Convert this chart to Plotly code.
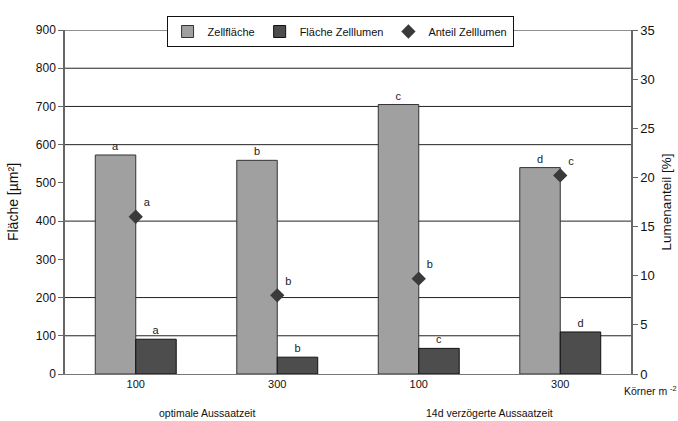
import plotly.graph_objects as go

categories = ["100", "300", "100", "300"]
groups = ["optimale Aussaatzeit", "14d verzögerte Aussaatzeit"]
zellflaeche = [573, 559, 705, 540]
lumen_flaeche = [91, 44, 67, 110]
anteil = [16.0, 8.0, 9.7, 20.2]
letters_zell = ["a", "b", "c", "d"]
letters_lumen = ["a", "b", "c", "d"]
letters_anteil = ["a", "b", "b", "c"]
grid_values = [100, 200, 400, 600, 700, 800, 900]
y_ticks = [0, 100, 200, 300, 400, 500, 600, 700, 800, 900]
y2_ticks = [0, 5, 10, 15, 20, 25, 30, 35]

FONT = "Liberation Sans, Arial, sans-serif"
x = list(range(len(categories)))

W, H = 678, 421
M_T, M_B, M_L, M_R = 16, 47, 65, 47
plot_h = H - M_T - M_B
dom_top = (H - M_B - 30) / plot_h  # plot top at 30 px from top

fig = go.Figure()
fig.add_trace(go.Bar(
    x=x, y=zellflaeche, name="Zellfläche",
    marker=dict(color="#A0A0A0", line=dict(color="#333333", width=1)),
    text=letters_zell, textposition="outside", cliponaxis=False,
    textfont=dict(size=11, color="#222222"),
))
fig.add_trace(go.Bar(
    x=x, y=lumen_flaeche, name="Fläche Zelllumen",
    marker=dict(color="#4D4D4D", line=dict(color="#111111", width=1)),
    text=letters_lumen, textposition="outside", cliponaxis=False,
    textfont=dict(size=11, color="#222222"),
))
fig.add_trace(go.Scatter(
    x=x, y=anteil, name="Anteil Zelllumen", yaxis="y2",
    mode="markers+text",
    marker=dict(symbol="diamond", size=11, color="#3A3A3A"),
    text=letters_anteil, textposition="top right",
    textfont=dict(size=11, color="#222222"),
))

for g in grid_values:
    fig.add_shape(type="line", xref="paper", x0=0, x1=1, yref="y", y0=g, y1=g,
                  line=dict(color="#222222", width=1), layer="below")

group_y = -(H - M_B - (H - 1)) / plot_h
for gx, gtext in zip([0.5, 2.5], groups):
    fig.add_annotation(x=gx, y=-0.131, xref="x", yref="paper", yanchor="bottom",
                       text=gtext, showarrow=False,
                       font=dict(size=10.5, family=FONT, color="#111"))
fig.add_annotation(x=0.984, y=-0.045, xref="paper", yref="paper", xanchor="left",
                   yanchor="middle", text="Körner m <sup>-2</sup>",
                   showarrow=False, font=dict(size=10.5, family=FONT, color="#111"))

fig.update_layout(
    width=W, height=H,
    margin=dict(l=M_L, r=M_R, t=M_T, b=M_B, autoexpand=False),
    paper_bgcolor="white", plot_bgcolor="white",
    font=dict(family=FONT, color="#111", size=12),
    barmode="group", bargap=0.428, bargroupgap=0,
    showlegend=True,
    legend=dict(orientation="h", x=0.486, xanchor="center", y=1.0, yanchor="top",
                bgcolor="white", bordercolor="#111", borderwidth=1,
                font=dict(size=11, family=FONT), itemclick=False,
                itemwidth=30, tracegroupgap=0),
    xaxis=dict(tickvals=x, ticktext=categories, range=[-0.5, 3.5], automargin=False,
               showgrid=False, showline=True, linecolor="#777", linewidth=1,
               ticks="", tickfont=dict(size=11), zeroline=False),
    yaxis=dict(range=[0, 900], tickvals=y_ticks, domain=[0, dom_top], automargin=False,
               showgrid=False, showline=True,
               linecolor="#666", linewidth=1.5, ticks="outside", ticklen=5,
               tickcolor="#666", tickfont=dict(size=12), zeroline=False,
               title=dict(text="Fläche [µm²]", font=dict(size=14), standoff=14)),
    yaxis2=dict(range=[0, 35], tickvals=y2_ticks, overlaying="y", side="right",
                automargin=False,
                showgrid=False, showline=True, linecolor="#666", linewidth=1.5,
                ticks="outside", ticklen=5, tickcolor="#666",
                tickfont=dict(size=13), zeroline=False,
                title=dict(text="Lumenanteil [%]", font=dict(size=13.5), standoff=8)),
)

fig.write_html("out.html", config={"displayModeBar": False},
               post_script="document.body.style.margin='0';document.body.style.overflow='hidden';")
